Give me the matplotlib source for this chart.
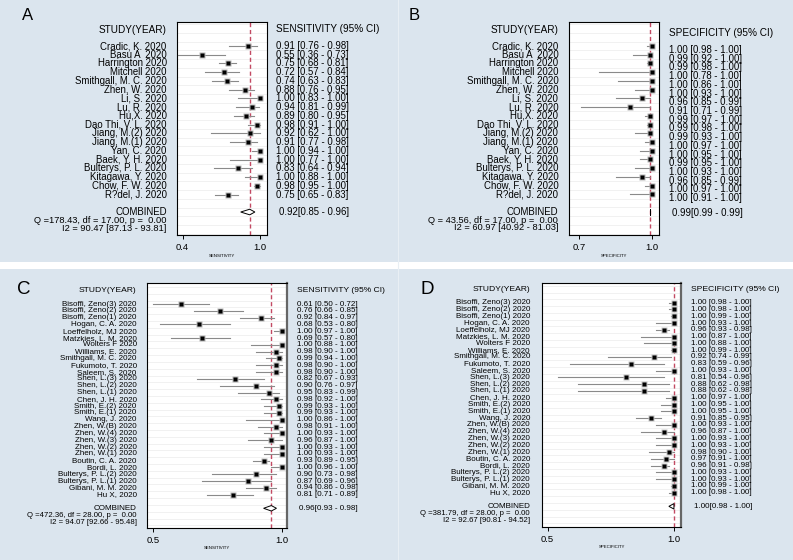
import matplotlib
matplotlib.use('Agg')
import matplotlib.pyplot as plt
from matplotlib.patches import Polygon, Rectangle
from matplotlib.transforms import blended_transform_factory

plt.rcParams['font.family'] = ['Liberation Sans', 'DejaVu Sans']

# Studies of panels A and B
studies_ab = ["Cradic, K. 2020", "Basu A  2020", "Harrington 2020", "Mitchell 2020",
              "Smithgall, M. C. 2020", "Zhen, W. 2020", "Li, S. 2020", "Lu, R. 2020",
              "Hu,X. 2020", "Dao Thi, V. L. 2020", "Jiang, M.(2) 2020", "Jiang, M.(1) 2020",
              "Yan, C. 2020", "Baek, Y. H. 2020", "Bulterys, P. L. 2020", "Kitagawa, Y. 2020",
              "Chow, F. W. 2020", "R?del, J. 2020"]

sens_a = [0.91, 0.55, 0.75, 0.72, 0.74, 0.88, 1.00, 0.94, 0.89, 0.98, 0.92, 0.91, 1.00, 1.00, 0.83, 1.00, 0.98, 0.75]
sens_a_lo = [0.76, 0.36, 0.68, 0.57, 0.63, 0.76, 0.83, 0.81, 0.80, 0.91, 0.62, 0.77, 0.94, 0.77, 0.64, 0.88, 0.95, 0.65]
sens_a_hi = [0.98, 0.73, 0.81, 0.84, 0.83, 0.95, 1.00, 0.99, 0.95, 1.00, 1.00, 0.98, 1.00, 1.00, 0.94, 1.00, 1.00, 0.83]

spec_b = [1.00, 0.99, 0.99, 1.00, 1.00, 1.00, 0.96, 0.91, 0.99, 0.99, 0.99, 1.00, 1.00, 0.99, 1.00, 0.96, 1.00, 1.00]
spec_b_lo = [0.98, 0.92, 0.98, 0.78, 0.86, 0.93, 0.85, 0.71, 0.97, 0.98, 0.93, 0.97, 0.95, 0.95, 0.93, 0.85, 0.97, 0.91]
spec_b_hi = [1.00, 1.00, 1.00, 1.00, 1.00, 1.00, 0.99, 0.99, 1.00, 1.00, 1.00, 1.00, 1.00, 1.00, 1.00, 0.99, 1.00, 1.00]

# Studies of panels C and D
studies_cd = ["Bisoffi, Zeno(3) 2020", "Bisoffi, Zeno(2) 2020", "Bisoffi, Zeno(1) 2020",
              "Hogan, C. A. 2020", "Loeffelholz, MJ 2020", "Matzkies, L. M. 2020",
              "Wolters F 2020", "Williams, E. 2020", "Smithgall, M. C. 2020",
              "Fukumoto, T. 2020", "Saleem, S. 2020", "Shen, L.(3) 2020", "Shen, L.(2) 2020",
              "Shen, L.(1) 2020", "Chen, J. H. 2020", "Smith, E.(2) 2020", "Smith, E.(1) 2020",
              "Wang, J. 2020", "Zhen, W.(B) 2020", "Zhen, W.(4) 2020", "Zhen, W.(3) 2020",
              "Zhen, W.(2) 2020", "Zhen, W.(1) 2020", "Boutin, C. A. 2020", "Bordi, L. 2020",
              "Bulterys, P. L.(2) 2020", "Bulterys, P. L.(1) 2020", "Gibani, M. M. 2020",
              "Hu X, 2020"]

sens_c = [0.61, 0.76, 0.92, 0.68, 1.00, 0.69, 1.00, 0.98, 0.99, 0.98, 0.98, 0.82, 0.90, 0.95, 0.98,
          0.99, 0.99, 1.00, 0.98, 1.00, 0.96, 1.00, 1.00, 0.93, 1.00, 0.90, 0.87, 0.94, 0.81]
sens_c_lo = [0.50, 0.66, 0.84, 0.53, 0.97, 0.57, 0.88, 0.90, 0.94, 0.90, 0.90, 0.67, 0.76, 0.83, 0.92,
             0.93, 0.93, 0.86, 0.91, 0.93, 0.87, 0.93, 0.93, 0.89, 0.96, 0.73, 0.69, 0.86, 0.71]
sens_c_hi = [0.72, 0.85, 0.97, 0.80, 1.00, 0.80, 1.00, 1.00, 1.00, 1.00, 1.00, 0.93, 0.97, 0.99, 1.00,
             1.00, 1.00, 1.00, 1.00, 1.00, 1.00, 1.00, 1.00, 0.95, 1.00, 0.98, 0.96, 0.98, 0.89]

spec_d = [1.00, 1.00, 1.00, 1.00, 0.96, 1.00, 1.00, 1.00, 0.92, 0.83, 1.00, 0.81, 0.88, 0.88, 1.00,
          1.00, 1.00, 0.91, 1.00, 0.96, 1.00, 1.00, 0.98, 0.97, 0.96, 1.00, 1.00, 1.00, 1.00]
spec_d_lo = [0.98, 0.98, 0.99, 0.93, 0.93, 0.87, 0.88, 0.99, 0.74, 0.59, 0.93, 0.54, 0.62, 0.62, 0.97,
             0.95, 0.95, 0.85, 0.93, 0.87, 0.93, 0.93, 0.90, 0.91, 0.91, 0.93, 0.93, 0.99, 0.98]
spec_d_hi = [1.00, 1.00, 1.00, 1.00, 0.98, 1.00, 1.00, 1.00, 0.99, 0.96, 1.00, 0.96, 0.98, 0.98, 1.00,
             1.00, 1.00, 0.95, 1.00, 1.00, 1.00, 1.00, 1.00, 1.00, 0.98, 1.00, 1.00, 1.00, 1.00]

# pooled results: estimate, lower, upper
combined_a = [0.92, 0.85, 0.96]
combined_b = [0.99, 0.99, 0.99]
combined_c = [0.96, 0.93, 0.98]
combined_d = [1.00, 0.98, 1.00]

het_a = ["Q =178.43, df = 17.00, p =  0.00", "I2 = 90.47 [87.13 - 93.81]"]
het_b = ["Q = 43.56, df = 17.00, p =  0.00", "I2 = 60.97 [40.92 - 81.03]"]
het_c = ["Q =472.36, df = 28.00, p =  0.00", "I2 = 94.07 [92.66 - 95.48]"]
het_d = ["Q =381.79, df = 28.00, p =  0.00", "I2 = 92.67 [90.81 - 94.52]"]

W, H = 793, 560
BG = '#dbe5ee'

fig = plt.figure(figsize=(W / 100, H / 100), dpi=100, facecolor=BG)
# white strip between the top and bottom row of panels
fig.patches.append(Rectangle((0, 1 - 269 / H), 1, 7 / H, transform=fig.transFigure,
                             facecolor='white', edgecolor='none', zorder=0))
fig.lines.append(plt.Line2D([398 / W, 398 / W], [0, 1], transform=fig.transFigure,
                            color='#e9eff4', lw=0.8))


def forest(box, ylim, studies, est, lo, hi, comb, het, xlim, ticks, xlabel, head,
           letter, name_x, val_x, fs, let_pos, let_fs, head_y, val_dy=0.0,
           q_rows=(0.95, 1.85), msize=(3.8, 2.3), box_col='#b5b5b5'):
    l, r, t, b = box
    ax = fig.add_axes([l / W, 1 - b / H, (r - l) / W, (b - t) / H])
    ax.set_facecolor('white')
    n = len(studies)
    rows = list(range(n))
    crow = n + 1

    for y in range(-3, n + 4):
        ax.axhline(y + 0.5, color='#ececec', lw=0.5, zorder=1)

    ax.axvline(comb[0], color='#c24a63', lw=1.0, ls=(0, (3, 2)), zorder=2)
    for y, a, c in zip(rows, lo, hi):
        ax.plot([a, c], [y, y], color='#8a8a8a', lw=0.8, zorder=3)
    ax.plot(est, rows, 's', color=box_col, ms=msize[0], mec='none', zorder=4)
    ax.plot(est, rows, 's', color='black', ms=msize[1], mec='none', zorder=5)

    ce, clo, chi = comb
    dh = 0.32 if n < 20 else 0.4
    ax.add_patch(Polygon([(clo, crow), (ce, crow - dh), (chi, crow), (ce, crow + dh)],
                         closed=True, facecolor='white', edgecolor='black', lw=0.7, zorder=5))

    ax.set_xlim(*xlim)
    ax.set_ylim(*ylim)
    ax.set_yticks([])
    ax.set_xticks(ticks)
    ax.set_xticklabels([f'{v:.1f}' for v in ticks])
    ax.tick_params(axis='x', direction='out', length=3, width=0.7, labelsize=6.8, pad=3)
    ax.set_xlabel(xlabel, fontsize=3.2, labelpad=1)
    for s in ax.spines.values():
        s.set_linewidth(0.8)
    if n > 20:
        ax.spines['right'].set_linewidth(1.6)
        ax.spines['right'].set_color('#666666')

    tr = blended_transform_factory(fig.transFigure, ax.transData)
    ax.text(name_x / W, head_y[0], 'STUDY(YEAR)', transform=tr, ha='right', va='center',
            fontsize=fs + 0.3, clip_on=False)
    ax.text(val_x / W, head_y[1], head, transform=tr, ha='left', va='center',
            fontsize=fs + 0.3, clip_on=False)
    for y, name, e, a, c in zip(rows, studies, est, lo, hi):
        ax.text(name_x / W, y, name, transform=tr, ha='right', va='center', fontsize=fs)
        ax.text(val_x / W, y + val_dy, f'{e:.2f} [{a:.2f} - {c:.2f}]', transform=tr,
                ha='left', va='center', fontsize=fs)
    ax.text(name_x / W, crow, 'COMBINED', transform=tr, ha='right', va='center', fontsize=fs)
    ax.text(name_x / W, crow + q_rows[0], het[0], transform=tr, ha='right', va='center',
            fontsize=fs - 0.2)
    ax.text(name_x / W, crow + q_rows[1], het[1], transform=tr, ha='right', va='center',
            fontsize=fs - 0.2)
    ax.text((val_x + 2.5) / W, crow + val_dy * 0.3, f'{ce:.2f}[{clo:.2f} - {chi:.2f}]',
            transform=tr, ha='left', va='center', fontsize=fs)
    fig.text(let_pos[0] / W, 1 - let_pos[1] / H, letter, fontsize=let_fs, ha='left', va='center')
    return ax


forest((177, 267, 22, 235), (21.63, -2.75), studies_ab, sens_a, sens_a_lo, sens_a_hi,
       combined_a, het_a, (0.356, 1.054), [0.4, 1.0], 'SENSITIVITY', 'SENSITIVITY (95% CI)',
       'A', 166.7, 276.5, 6.9, (22, 16), 12, (-1.83, -1.95))

forest((569.3, 659.3, 21.7, 235), (21.67, -2.79), studies_ab, spec_b, spec_b_lo, spec_b_hi,
       combined_b, het_b, (0.66, 1.029), [0.7, 1.0], 'SPECIFICITY', 'SPECIFICITY (95% CI)',
       'B', 558.3, 669, 6.9, (409, 16), 12, (-1.83, -1.46), val_dy=0.45)

forest((147.3, 287.3, 282.7, 527.7), (32.85, -3.13), studies_cd, sens_c, sens_c_lo, sens_c_hi,
       combined_c, het_c, (0.479, 1.022), [0.5, 1.0], 'SENSITIVITY', 'SENSITIVITY (95% CI)',
       'C', 136.7, 296.7, 5.8, (17, 290), 13.5, (-1.95, -1.95), q_rows=(1.1, 2.05),
       msize=(4.8, 2.5))

forest((542.3, 681, 283, 526.7), (33.0, -2.9), studies_cd, spec_d, spec_d_lo, spec_d_hi,
       combined_d, het_d, (0.479, 1.028), [0.5, 1.0], 'SPECIFICITY', 'SPECIFICITY (95% CI)',
       'D', 530, 691, 5.8, (421, 290), 13.5, (-1.87, -1.87), q_rows=(1.1, 2.1),
       msize=(5.0, 2.5), box_col='#c4c4c4')

fig.savefig('out.png', dpi=100, facecolor=BG)
